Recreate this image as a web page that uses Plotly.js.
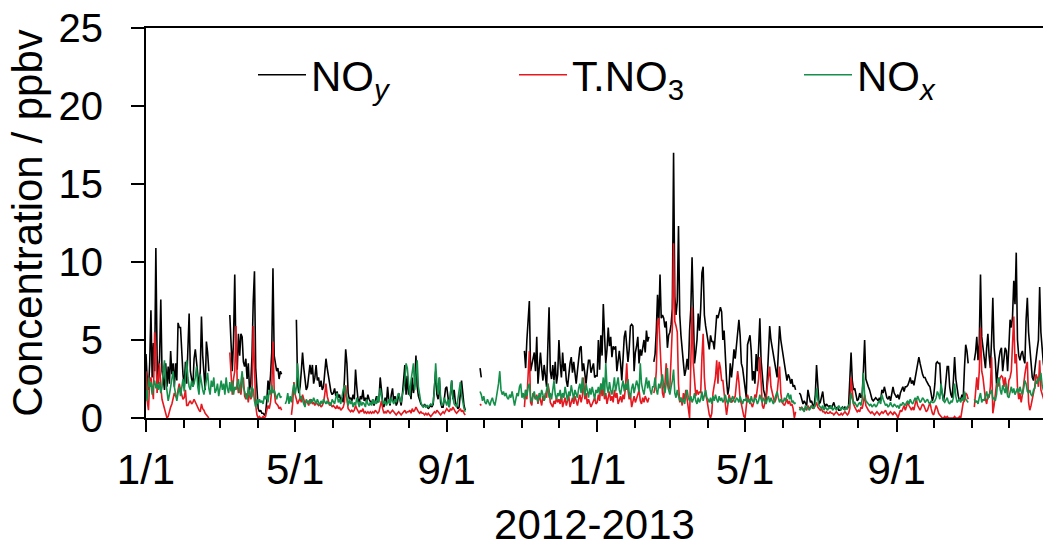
<!DOCTYPE html>
<html><head><meta charset="utf-8">
<script src="https://cdn.plot.ly/plotly-3.0.1.min.js"></script>
<style>html,body{margin:0;padding:0;background:#fff;}#chart{width:1043px;height:548px;}</style>
</head><body><div id="chart"></div>
<script>
// month rows: each row holds the daily values of that month (null = no data)
const months = ['2012-01','2012-02','2012-03','2012-04','2012-05','2012-06','2012-07','2012-08','2012-09','2012-10','2012-11','2012-12',
                '2013-01','2013-02','2013-03','2013-04','2013-05','2013-06','2013-07','2013-08','2013-09','2013-10','2013-11','2013-12'];
const N = null;
const noy = [
 [4.1,2.4,1.8,3.5,6.9,2.6,4.8,3.0,10.9,4.0,2.2,3.8,7.6,3.0,2.5,1.8,3.5,2.0,3.3,2.2,4.3,2.8,3.5,2.0,3.5,2.4,6.1,5.8,5.8,4.0,2.8],
 [2.0,3.6,2.2,4.5,6.7,3.0,2.4,2.0,3.8,4.4,3.6,2.5,2.0,3.0,6.5,4.0,2.8,1.8,4.9,4.2,3.0,N,N,N,N,N,N,N,N],
 [N,N,N,N,N,N,N,N,6.6,4.1,3.0,5.0,9.2,4.0,3.1,5.4,4.0,5.4,5.2,3.6,3.3,3.8,2.5,3.5,1.8,2.2,4.0,7.5,9.4,3.2,1.5],
 [0.6,0.4,0.5,0.3,0.3,0.2,0.3,1.1,2.4,1.8,2.7,4.2,9.6,4.0,3.5,3.0,3.2,2.5,3.0,2.8,N,N,N,N,N,N,N,N,N,N],
 [N,6.3,2.2,1.6,2.0,3.0,4.2,3.2,2.4,1.8,2.0,2.6,3.4,2.8,3.4,2.2,2.6,3.4,2.4,2.6,2.0,2.4,1.8,2.0,2.8,3.8,3.2,2.6,2.0,1.7,1.5],
 [1.6,1.9,1.4,1.7,1.3,1.5,1.1,1.3,1.0,2.5,4.4,3.5,1.6,1.2,1.3,1.1,1.5,1.2,3.1,2.0,1.2,1.0,1.4,1.2,1.8,1.1,1.3,1.0,1.5,1.2],
 [1.0,0.9,1.2,0.8,1.1,1.4,1.0,1.2,2.6,1.8,1.0,0.7,1.3,0.9,2.0,1.1,0.8,1.5,1.9,1.0,1.4,0.8,1.0,1.6,1.2,0.8,1.5,2.4,3.4,1.5,2.7],
 [1.5,1.9,1.2,2.6,1.6,2.2,4.0,2.0,1.4,1.1,0.9,0.8,0.7,0.9,0.7,0.8,0.6,0.7,0.8,0.7,0.9,2.0,3.0,1.5,1.2,2.6,1.0,0.7,0.7,1.2,1.9],
 [2.0,1.2,0.7,1.5,2.4,1.2,1.8,1.0,0.8,0.6,0.7,1.5,2.4,1.6,0.8,0.5,N,N,N,N,N,N,N,N,N,N,N,3.2,2.6,N],
 [N,N,N,N,N,N,N,N,N,N,N,N,N,N,N,N,N,N,N,N,N,N,N,N,N,N,N,N,N,N,N],
 [N,N,4.3,3.2,5.0,6.5,7.5,3.0,3.4,3.6,4.2,3.0,5.2,2.2,3.2,4.2,3.2,2.4,3.4,2.6,2.0,4.6,7.1,3.0,2.5,3.4,2.4,3.6,2.2,2.8],
 [5.0,3.5,2.6,4.2,3.0,3.5,2.4,2.0,2.8,3.5,3.9,2.9,3.6,2.6,2.2,3.0,3.9,4.5,4.6,3.0,3.5,2.8,2.2,3.0,3.7,3.7,2.9,3.2,3.5,2.6,2.7],
 [2.7,5.0,3.1,5.3,4.0,7.3,5.3,3.5,4.4,5.8,4.6,5.2,3.9,4.6,4.4,4.6,3.0,3.6,4.3,3.5,2.4,3.8,5.2,5.6,4.6,3.6,4.4,5.9,6.0,5.9,3.0],
 [4.2,4.6,5.2,3.5,4.4,4.0,4.6,5.0,4.2,5.6,4.9,5.2,N,N,N,3.6,4.1,5.6,7.9,6.0,9.2,6.4,6.6,6.4,5.8,6.2,4.5,5.3],
 [5.5,6.0,7.0,17.0,7.8,6.6,7.5,12.3,6.6,5.3,4.2,3.5,2.7,3.1,3.8,3.1,5.6,7.0,10.3,6.6,3.5,4.2,5.0,6.7,5.6,7.0,9.3,9.7,6.6,5.9,5.3],
 [4.9,4.4,5.3,4.9,4.9,4.4,5.5,6.6,6.4,6.8,7.1,6.8,5.0,5.6,3.5,2.4,1.5,2.0,3.5,2.6,3.4,4.4,3.8,4.6,5.5,6.3,5.3,3.5,3.2,2.6],
 [1.7,1.3,4.7,5.0,5.3,4.3,2.4,3.0,2.2,4.1,3.0,4.5,6.4,3.7,2.8,1.8,1.5,1.1,2.5,4.0,5.9,5.0,4.5,4.0,3.5,3.3,2.6,4.2,5.9,5.0,4.5],
 [4.0,3.3,2.8,2.4,2.8,2.6,2.2,2.5,2.0,2.1,1.8,N,N,1.6,1.5,1.2,0.9,1.1,0.9,0.8,1.8,1.3,1.0,1.1,0.8,0.7,1.5,3.4,2.0,0.9],
 [1.0,1.4,1.7,1.0,0.7,0.9,0.8,0.7,0.8,0.6,0.8,1.0,0.7,0.6,0.7,0.5,0.5,0.6,0.7,0.6,0.7,0.6,0.6,0.8,2.5,4.2,2.4,1.8,1.9,1.4,1.1],
 [1.2,1.6,1.3,1.5,3.0,5.0,2.5,2.2,2.0,1.8,1.5,1.2,1.1,1.2,1.3,1.2,1.1,1.3,1.1,1.8,1.6,2.0,1.5,1.3,1.2,1.4,1.1,1.5,2.0,1.6,1.4],
 [1.3,1.5,1.2,1.6,1.8,2.0,1.7,2.0,2.0,2.1,2.3,2.6,2.2,2.4,2.1,2.6,3.0,3.3,3.9,3.5,3.0,2.8,2.6,2.6,2.4,2.2,2.1,2.0,1.5,1.1],
 [1.4,2.2,3.5,3.6,3.5,3.5,2.0,1.5,1.1,1.6,2.6,3.3,3.3,2.0,1.5,1.3,2.4,3.9,2.5,1.8,1.4,1.1,1.2,1.5,1.3,3.2,4.7,4.3,3.5,N,N],
 [N,N,3.7,4.2,5.2,3.7,4.8,9.2,5.2,4.5,3.5,3.2,4.5,5.4,4.0,3.2,5.0,7.7,4.5,3.7,2.2,3.2,3.8,4.3,4.5,3.0,3.8,4.5,4.3,3.0],
 [4.5,6.3,5.8,6.5,8.8,7.3,10.6,5.0,4.0,3.7,4.1,4.3,3.8,3.5,6.3,7.7,5.5,4.5,3.2,2.6,2.4,3.2,3.7,4.4,5.0,8.4,5.5,4.1,3.5,3.0,2.8]
];
const tno3 = [
 [3.0,1.1,0.5,2.4,2.6,2.0,1.2,5.5,4.3,1.6,2.5,3.5,2.0,1.2,0.9,0.6,0.3,0.0,0.1,0.5,0.7,0.9,1.2,1.6,1.4,1.3,1.8,2.2,1.8,1.5,1.2],
 [1.3,1.8,0.8,0.8,1.0,1.1,0.9,1.0,1.2,1.0,0.8,0.6,0.5,0.4,0.9,0.6,0.5,0.3,0.2,0.1,0.0,N,N,N,N,N,N,N,N],
 [N,N,N,N,N,N,N,N,4.2,3.0,1.5,2.5,3.0,5.9,2.2,1.6,2.0,1.5,2.4,2.6,1.4,1.2,1.6,1.0,1.8,1.2,1.4,5.9,3.0,0.8,0.2],
 [0.0,0.1,0.0,0.0,0.1,0.0,0.1,0.5,0.8,0.6,1.0,1.8,4.9,1.8,1.0,0.9,0.8,0.6,0.7,0.5,N,N,N,N,N,N,N,0.2,0.9,2.3],
 [1.5,1.2,0.9,1.1,1.3,1.0,1.5,1.2,0.9,1.1,1.0,0.8,1.2,1.1,0.9,1.0,0.8,1.0,0.9,0.8,0.9,0.7,0.8,1.0,1.5,2.2,1.4,1.0,0.8,0.9,0.7],
 [0.8,0.7,0.6,0.8,0.6,0.7,0.5,0.6,0.7,1.0,2.1,1.2,0.6,0.5,0.4,0.5,0.4,0.5,0.8,0.6,0.4,0.3,0.5,0.4,0.6,0.3,0.4,0.3,0.4,0.3],
 [0.4,0.3,0.4,0.3,0.5,0.4,0.3,0.4,0.8,1.1,0.6,0.3,0.4,0.3,0.5,0.4,0.3,0.4,0.5,0.4,0.3,0.2,0.3,0.4,0.3,0.2,0.3,0.4,0.5,0.3,0.4],
 [0.4,0.5,0.3,0.6,0.4,0.5,0.7,0.5,0.4,0.3,0.4,0.3,0.3,0.2,0.3,0.2,0.3,0.2,0.1,0.2,0.3,0.4,0.3,0.5,0.4,0.3,0.2,0.3,0.4,0.3,0.5],
 [0.6,0.5,0.4,0.6,0.5,0.7,0.5,0.4,0.3,0.4,0.5,0.6,0.4,0.5,0.3,0.2,N,N,N,N,N,N,N,N,N,N,N,0.9,0.8,N],
 [N,N,N,N,N,N,N,N,N,N,N,N,N,N,N,N,N,N,N,N,N,N,N,N,N,N,N,N,N,N,N],
 [N,N,0.7,1.8,1.2,2.4,4.3,1.0,0.8,1.6,1.4,1.2,1.5,0.9,1.5,1.2,0.8,1.4,1.1,1.6,1.3,2.2,1.8,1.0,0.8,0.7,1.1,0.9,1.3,1.0],
 [1.2,0.9,1.5,0.7,1.0,1.3,0.8,1.2,1.4,0.7,1.0,1.3,0.9,1.4,1.1,0.8,1.2,1.5,1.0,1.4,2.6,1.2,1.6,0.9,1.2,1.0,0.7,0.9,1.1,1.3,0.9],
 [1.0,1.5,1.1,2.2,1.4,1.9,1.2,1.6,0.9,1.3,1.7,1.1,1.4,1.0,1.8,1.3,1.6,0.9,1.2,1.4,1.0,1.5,1.2,2.0,3.5,1.8,1.2,1.5,0.7,1.1,1.4],
 [1.0,1.2,1.5,1.8,1.1,0.9,1.3,1.0,1.4,1.2,1.0,1.3,N,N,N,1.6,2.0,3.0,6.2,6.4,4.2,3.0,1.6,1.3,2.2,3.5,2.2,1.8],
 [2.0,3.5,5.8,11.2,6.2,5.9,5.5,2.2,1.0,1.3,0.8,1.6,1.2,1.8,1.0,0.6,0.0,3.2,7.1,3.5,2.2,1.4,1.8,1.5,1.7,1.6,3.9,5.4,2.6,1.5,1.2],
 [0.5,0.2,0.0,0.3,1.6,2.0,2.6,3.7,2.2,3.6,3.2,2.4,2.4,1.6,0.7,0.2,0.8,1.5,1.2,1.0,1.1,1.3,1.4,2.2,3.0,2.3,1.2,0.9,0.4,0.1],
 [0.0,0.8,1.5,1.2,1.1,0.9,0.7,1.0,1.5,1.3,1.8,2.5,3.9,1.8,0.8,0.6,0.9,1.3,2.0,2.8,3.3,2.0,1.5,1.3,1.0,1.2,1.6,2.5,3.3,1.6,1.0],
 [0.9,0.8,1.0,1.2,0.9,1.1,0.8,0.9,0.6,0.0,0.4,N,N,0.7,0.6,0.7,0.5,0.6,0.6,0.5,0.8,0.6,0.7,0.8,0.6,0.7,0.8,1.0,0.7,0.6],
 [0.5,0.6,0.4,0.4,0.3,0.4,0.3,0.3,0.4,0.3,0.3,0.2,0.3,0.4,0.3,0.2,0.2,0.3,0.2,0.3,0.4,0.3,0.2,0.3,0.6,2.6,1.4,0.9,0.7,0.5,0.4],
 [0.5,0.4,0.7,0.6,1.0,1.5,0.8,0.6,0.5,0.4,0.3,0.4,0.3,0.2,0.3,0.4,0.3,0.2,0.3,0.4,0.3,0.4,0.5,0.3,0.2,0.3,0.4,0.3,0.2,0.4,0.3],
 [0.2,0.0,0.3,0.5,0.4,0.6,0.8,0.5,0.7,1.0,0.8,0.6,0.5,0.7,0.5,0.9,1.2,0.8,0.6,0.5,0.7,0.9,0.8,0.6,0.4,0.5,0.8,1.0,0.6,0.3],
 [0.2,0.5,0.8,0.6,0.3,0.2,0.1,0.0,0.0,0.1,0.0,0.1,0.0,0.0,0.0,0.0,0.0,0.1,0.0,0.0,0.0,0.1,0.0,0.5,1.0,1.1,1.6,1.5,1.2,N,N],
 [N,N,0.7,1.5,2.6,1.8,3.0,5.8,3.0,2.6,1.6,1.2,0.9,1.5,1.3,2.0,3.9,0.3,0.8,1.6,2.2,2.0,2.4,2.6,2.7,2.6,2.0,2.6,2.0,1.5],
 [2.4,2.6,3.0,5.4,6.5,3.5,4.1,2.0,1.2,1.6,1.0,1.5,2.0,2.8,3.3,3.6,1.0,0.5,0.8,1.2,1.5,2.0,2.8,2.6,2.0,3.7,1.8,1.5,1.2,1.0,0.9]
];
const nox = [
 [1.8,1.1,2.6,2.0,2.3,1.5,2.1,2.4,1.9,2.2,1.8,2.3,1.6,2.0,3.0,3.7,2.4,1.5,1.1,1.5,2.0,2.4,3.0,2.0,1.5,1.1,1.6,2.0,1.4,1.9,2.5],
 [1.7,2.8,3.7,2.6,2.0,1.8,2.4,2.0,2.2,2.6,3.3,2.0,1.5,2.8,2.2,1.8,1.5,2.0,2.6,2.9,1.9,1.5,2.4,2.0,2.6,1.6,1.8,2.2,1.4],
 [2.0,2.4,1.8,2.2,1.5,2.6,1.9,1.6,2.3,1.7,2.4,1.5,2.0,1.8,2.2,2.5,1.6,2.4,3.0,2.0,1.6,1.4,1.2,2.0,1.5,1.3,2.0,1.8,1.1,0.7,1.2],
 [0.9,1.2,1.0,1.1,0.9,1.4,1.2,1.5,1.0,1.8,1.5,2.1,1.6,1.8,1.4,1.2,1.5,1.6,1.3,1.4,N,N,0.9,1.1,1.6,0.9,1.4,1.0,1.7,2.2],
 [1.5,2.0,3.5,2.0,1.2,1.4,1.1,0.9,0.7,1.2,1.0,1.1,0.9,1.2,1.0,1.3,1.1,0.9,1.2,1.0,0.8,1.1,0.9,1.2,1.0,0.9,1.1,0.9,1.0,0.8,1.2],
 [1.0,0.9,1.3,1.6,1.0,1.2,0.9,1.5,1.8,2.1,1.6,1.0,0.8,1.2,0.9,1.1,0.7,1.0,0.8,1.3,1.0,0.7,1.1,0.8,1.0,0.9,0.7,1.2,0.9,0.8],
 [1.0,0.8,1.2,0.9,1.1,0.9,1.4,1.0,1.9,1.5,1.0,0.9,1.1,0.8,1.0,1.2,0.9,1.3,1.1,0.9,1.2,1.0,1.4,1.6,1.2,1.0,1.5,1.8,2.4,3.5,3.2],
 [2.0,1.4,2.4,3.0,3.5,1.8,2.6,3.7,2.0,1.4,1.0,0.8,0.7,0.8,0.7,0.8,0.7,0.8,0.9,0.8,1.0,1.8,3.5,2.2,1.5,2.6,1.3,0.8,0.9,1.3,1.0],
 [0.8,1.2,0.7,1.6,2.4,1.3,0.9,0.8,0.7,1.2,1.8,2.3,1.5,0.9,0.6,0.4,N,N,N,N,N,N,N,N,N,N,N,1.7,1.5,1.1],
 [1.4,1.0,0.9,1.2,1.0,0.8,1.1,1.3,1.0,0.8,1.2,1.6,2.2,3.0,1.8,1.5,1.7,1.4,1.6,1.3,1.2,1.5,1.3,1.7,1.1,0.8,1.2,1.6,1.4,2.0,2.2],
 [1.3,1.6,1.2,1.8,1.4,2.0,2.2,1.3,1.0,1.5,1.7,1.2,1.4,1.0,1.6,1.3,1.8,1.5,1.1,1.4,1.9,2.2,1.3,1.6,1.2,1.7,2.4,1.5,1.2,1.6],
 [1.4,1.8,1.2,1.6,1.3,2.0,1.5,1.1,1.7,1.4,2.1,1.6,1.2,1.8,1.5,1.3,1.9,2.2,1.6,2.6,1.8,1.4,2.2,1.7,1.3,1.9,1.5,2.0,1.6,1.2,1.8],
 [1.6,2.0,1.5,2.2,1.8,2.6,1.4,3.5,2.0,1.6,2.3,1.8,1.5,2.0,2.6,1.7,2.2,2.6,1.8,1.5,2.0,2.4,1.7,2.2,1.8,2.5,1.6,1.3,1.9,2.2,1.6],
 [2.0,2.4,2.1,1.7,3.5,2.2,1.8,1.5,2.1,2.6,1.9,2.4,1.8,1.5,2.0,2.0,2.6,1.8,1.5,2.2,1.9,2.4,2.8,2.0,1.6,2.2,3.2,1.8],
 [1.5,2.0,2.4,3.1,1.6,1.3,1.8,1.4,1.1,1.3,1.0,1.2,0.9,1.5,1.8,1.3,1.1,1.4,1.0,1.2,1.6,1.1,0.9,1.3,1.0,1.2,1.7,1.1,1.4,1.8,1.3],
 [1.2,1.0,1.3,0.9,1.4,1.1,1.5,1.2,1.0,1.4,1.1,1.3,1.0,1.2,1.5,1.1,0.9,1.3,1.0,1.2,1.4,1.1,1.0,1.3,1.2,1.0,1.4,1.1,0.9,1.2],
 [1.1,1.3,1.0,1.2,0.9,1.4,1.1,1.0,1.3,1.2,0.9,1.1,1.5,1.2,1.0,1.3,1.1,0.9,1.2,1.4,1.0,1.3,1.1,0.9,1.2,1.5,1.7,1.3,1.0,1.2,1.1],
 [1.0,1.3,1.1,1.4,1.6,1.2,1.5,1.0,1.1,0.9,1.0,N,N,0.6,0.5,0.7,0.5,0.4,0.8,0.6,0.7,0.5,0.6,0.8,0.7,0.6,0.9,1.9,1.2,0.8],
 [0.7,0.6,0.8,0.5,0.7,0.6,0.5,0.7,0.6,0.8,0.5,0.6,0.7,0.5,0.6,0.8,0.6,0.5,0.7,0.6,0.5,0.7,0.6,0.8,0.9,1.6,1.2,0.9,1.0,0.8,0.7],
 [0.9,1.0,0.8,1.2,2.9,1.5,1.1,1.0,0.9,0.8,0.9,0.7,0.8,0.9,0.7,0.8,1.0,1.1,0.9,1.5,1.2,1.0,0.8,0.9,0.7,0.8,1.0,0.8,0.7,0.9,0.8],
 [0.7,0.8,0.6,0.9,0.8,1.0,0.9,0.8,1.0,1.1,0.9,1.2,1.0,0.9,1.1,1.3,1.1,1.4,1.2,1.0,1.1,1.3,1.2,1.0,1.1,1.2,1.0,0.9,1.1,1.0],
 [1.0,1.1,1.3,1.7,1.5,1.2,2.2,1.6,1.1,1.0,1.2,1.3,1.0,0.9,1.1,1.0,1.3,2.2,1.4,1.0,1.1,1.2,1.0,1.3,1.1,1.7,1.2,1.1,1.0,N,N],
 [N,N,1.2,1.0,1.1,0.9,1.3,1.6,1.0,1.2,1.1,1.4,1.7,1.2,1.5,1.6,1.8,1.2,1.3,1.1,1.5,2.4,2.6,1.8,1.5,2.1,1.9,1.6,2.2,1.4],
 [1.3,1.8,2.0,1.6,1.9,1.5,1.7,1.9,1.6,2.0,1.7,1.5,1.9,2.4,2.2,1.7,1.6,1.8,1.5,1.4,1.8,1.9,2.4,2.2,2.6,2.4,2.9,2.1,1.8,1.6,1.7]
];
const xTickStart = '2012-01-01';
const xRange = ['2012-01-01', '2013-12-28 17:00'];

function series(rows){
  const x = [], y = [];
  rows.forEach((row, m) => {
    const [yr, mo] = months[m].split('-').map(Number);
    row.forEach((v, i) => {
      const d = new Date(Date.UTC(yr, mo - 1, i + 1));
      x.push(d.toISOString().slice(0, 10));
      y.push(v);
    });
  });
  return {x, y};
}
const sNoy = series(noy), sT = series(tno3), sNox = series(nox);
const FONT = 'Liberation Sans, Arial, Helvetica, sans-serif';
const L = 146, PW = 897, T = 28, PH = 390;
const px = v => (v - L) / PW;
const py = v => (T + PH - v) / PH;

const traces = [
  {x: sNoy.x, y: sNoy.y, type: 'scatter', mode: 'lines', name: 'NO<sub><i>y</i></sub>',
   line: {color: '#000000', width: 1.6}, connectgaps: false, legend: 'legend'},
  {x: sT.x, y: sT.y, type: 'scatter', mode: 'lines', name: 'T.NO<sub>3</sub>',
   line: {color: '#e5171f', width: 1.6}, connectgaps: false, legend: 'legend2'},
  {x: sNox.x, y: sNox.y, type: 'scatter', mode: 'lines', name: 'NO<sub><i>x</i></sub>',
   line: {color: '#14904a', width: 1.6}, connectgaps: false, legend: 'legend3'}
];
const legBase = {xanchor: 'left', yanchor: 'middle', y: py(75), bgcolor: 'rgba(0,0,0,0)', borderwidth: 0,
  font: {family: FONT, size: 42, color: '#000'}, itemwidth: 48, tracegroupgap: 0};
const layout = {
  width: 1043, height: 548,
  margin: {l: L, r: 1043 - L - PW, t: T, b: 548 - T - PH, pad: 0},
  paper_bgcolor: '#fff', plot_bgcolor: '#fff',
  font: {family: FONT, color: '#000'},
  showlegend: true,
  legend: Object.assign({}, legBase, {x: px(253)}),
  legend2: Object.assign({}, legBase, {x: px(514)}),
  legend3: Object.assign({}, legBase, {x: px(799)}),
  xaxis: {
    type: 'date', range: xRange, autorange: false,
    tick0: xTickStart, dtick: 'M4', tickformat: '%-m/%-d',
    ticks: 'outside', ticklen: 12, tickwidth: 2, tickcolor: '#000',
    minor: {dtick: 'M1', tick0: xTickStart, ticks: 'outside', ticklen: 8, tickwidth: 2, tickcolor: '#000', showgrid: false},
    showline: true, linewidth: 2, linecolor: '#000', mirror: true,
    showgrid: false, zeroline: false, automargin: false,
    tickfont: {family: FONT, size: 42, color: '#000'}, ticklabelstandoff: 2,
    title: {text: '2012-2013', font: {family: FONT, size: 42, color: '#000'}, standoff: 22}
  },
  yaxis: {
    range: [0, 25], autorange: false, tick0: 0, dtick: 5,
    ticks: 'outside', ticklen: 13, tickwidth: 2, tickcolor: '#000',
    showline: true, linewidth: 2, linecolor: '#000', mirror: false,
    showgrid: false, zeroline: false, automargin: false,
    tickfont: {family: FONT, size: 40, color: '#000'}, ticklabelstandoff: 20,
    title: {text: 'Concentration / ppbv', font: {family: FONT, size: 42, color: '#000'}, standoff: 3}
  }
};
Plotly.newPlot('chart', traces, layout, {staticPlot: true, displayModeBar: false});
</script></body></html>
